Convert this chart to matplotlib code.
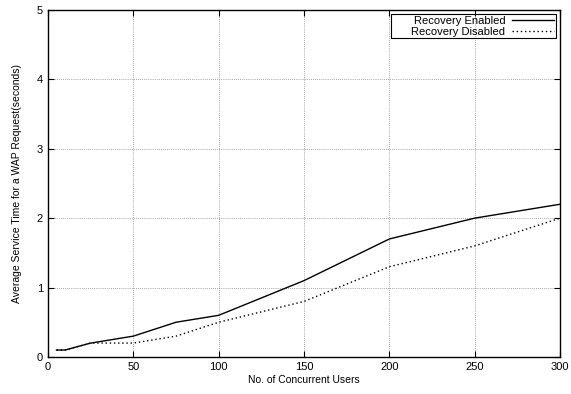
import matplotlib
matplotlib.use("Agg")
import matplotlib.pyplot as plt
from matplotlib.patches import Rectangle

plt.rcParams['font.family'] = ['Liberation Sans', 'DejaVu Sans']

users = [5, 10, 25, 50, 75, 100, 150, 200, 250, 300]
enabled = [0.1, 0.1, 0.2, 0.3, 0.5, 0.6, 1.1, 1.7, 2.0, 2.2]
disabled = [0.1, 0.1, 0.2, 0.2, 0.3, 0.5, 0.8, 1.3, 1.6, 2.0]

fig = plt.figure(figsize=(5.71, 3.94), dpi=100)
ax = fig.add_axes([0.084, 0.094, 0.897, 0.881])

ax.plot(users, enabled, color='black', lw=1.0, label='Recovery Enabled')
ax.plot(users, disabled, color='black', lw=1.0, linestyle=(0, (1, 2)), label='Recovery Disabled')

ax.set_xlim(0, 300)
ax.set_ylim(0, 5)
ax.set_xticks([0, 50, 100, 150, 200, 250, 300])
ax.set_yticks([0, 1, 2, 3, 4, 5])
ax.tick_params(direction='in', top=True, right=True, labelsize=8, length=4)
ax.grid(True, color='#888888', linestyle=(0, (1, 1.5)), lw=0.6)
for s in ax.spines.values():
    s.set_linewidth(1.0)

ax.set_xlabel('No. of Concurrent Users', fontsize=7.5, labelpad=2)
ax.set_ylabel('Average Service Time for a WAP Request(seconds)', fontsize=7.5, labelpad=11)

leg = ax.legend(loc='upper right', fontsize=8, markerfirst=False, frameon=False,
                handlelength=3.8, borderpad=0.15, labelspacing=0.05,
                handletextpad=0.6, borderaxespad=0.4)
# right-align the labels like gnuplot
for col in leg._legend_handle_box.get_children():
    col.align = 'right'

# gnuplot-style key box, a bit wider on the left
fig.canvas.draw()
bb = leg.get_window_extent()
box = Rectangle((bb.x0 - 18, bb.y0), bb.width + 18, bb.height, transform=None,
                fill=False, edgecolor='black', lw=0.8, zorder=5)
fig.patches.append(box)

fig.savefig('out.png', dpi=100)
